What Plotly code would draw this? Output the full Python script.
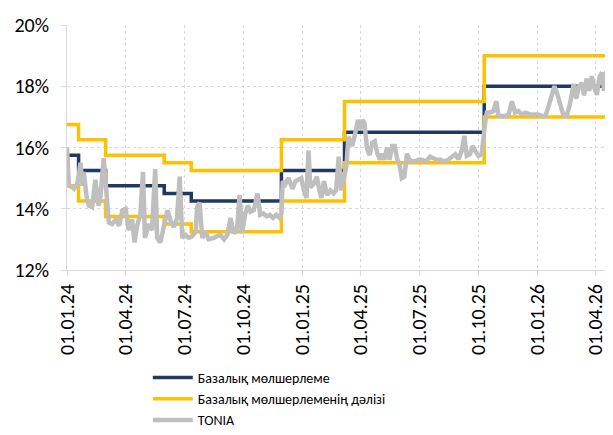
import pandas as pd
import plotly.graph_objects as go

# Policy (base) rate decisions
base_dates = ["2024-01-01", "2024-01-19", "2024-03-01", "2024-05-31", "2024-07-12",
              "2024-11-29", "2025-03-07", "2025-10-10", "2026-04-28"]
base_vals = [15.75, 15.25, 14.75, 14.5, 14.25, 15.25, 16.5, 18.0, 18.0]
corridor_upper = [16.75, 16.25, 15.75, 15.5, 15.25, 16.25, 17.5, 19.0, 19.0]
corridor_lower = [14.75, 14.25, 13.75, 13.5, 13.25, 14.25, 15.5, 17.0, 17.0]

# TONIA: days since 01.01.2024 and value (%)
tonia_day = [0, 3, 8, 11, 16, 21, 24, 26, 31, 34, 39, 44, 49, 52, 57, 62, 65, 70, 76, 81,
             86, 91, 96, 101, 105, 109, 114, 118, 121, 127, 132, 137, 140, 145, 150, 156, 161, 166, 171, 175,
             179, 184, 189, 194, 200, 202, 206, 210, 215, 220, 228, 233, 238, 244, 249, 254, 259, 264, 268, 272,
             277, 281, 285, 290, 296, 300, 305, 310, 315, 320, 325, 330, 333, 335, 339, 344, 350, 355, 360, 364,
             368, 372, 375, 378, 383, 388, 391, 395, 399, 404, 409, 414, 418, 422, 426, 430, 434, 437, 443, 448,
             452, 456, 459, 462, 466, 470, 474, 478, 482, 486, 489, 493, 497, 501, 505, 509, 513, 516, 520, 524,
             528, 532, 536, 541, 546, 551, 557, 562, 564, 569, 575, 580, 585, 590, 598, 603, 608, 613, 617, 621,
             626, 630, 634, 639, 644, 647, 650, 652, 657, 662, 667, 670, 675, 681, 686, 691, 696, 701, 706, 712,
             719, 727, 732, 737, 743, 748, 753, 757, 761, 766, 771, 776, 781, 787, 791, 795, 800, 803, 807, 811,
             815, 819, 823, 827, 831, 834, 838, 843, 848]
tonia_val = [16.0, 14.75, 14.7, 14.65, 14.8, 15.5, 14.75, 15.2, 14.3, 14.1, 14.05, 14.95, 14.1, 14.4, 15.65, 14.05, 13.55, 13.5, 13.65, 13.45,
             13.95, 14.0, 13.3, 13.65, 12.9, 13.45, 13.85, 15.2, 13.05, 13.5, 13.3, 15.3, 13.05, 12.9, 13.4, 13.95, 13.6, 13.4, 13.7, 15.05,
             13.05, 13.15, 13.05, 13.1, 13.25, 14.05, 14.2, 13.05, 13.25, 13.0, 13.05, 13.1, 13.15, 13.0, 13.15, 13.7, 13.2, 13.3, 14.45, 13.2,
             13.85, 14.1, 13.9, 13.95, 14.5, 13.8, 13.85, 13.75, 13.8, 13.7, 13.8, 13.7, 13.85, 14.9, 14.8, 15.0, 14.65, 14.9, 14.95, 15.0,
             14.6, 14.35, 15.9, 14.7, 14.8, 15.05, 14.7, 14.35, 14.9, 14.45, 14.6, 14.5, 14.6, 15.7, 14.6, 15.1, 15.4, 16.35, 16.05, 16.5,
             16.9, 16.6, 16.9, 16.8, 15.95, 15.75, 16.15, 16.2, 15.8, 15.6, 15.8, 15.6, 16.0, 15.6, 16.05, 16.05, 15.6, 15.5, 15.0, 15.05,
             15.8, 15.6, 15.55, 15.55, 15.6, 15.6, 15.55, 15.65, 15.7, 15.65, 15.6, 15.6, 15.55, 15.57, 15.73, 15.78, 15.62, 15.89, 16.38, 15.73,
             15.78, 16.05, 15.89, 15.73, 15.78, 16.45, 16.9, 17.14, 17.14, 17.19, 17.51, 17.03, 17.03, 17.03, 17.08, 17.51, 17.14, 17.19, 17.08, 17.14,
             17.08, 17.08, 17.08, 17.03, 17.03, 17.35, 17.7, 18.0, 17.78, 17.46, 17.05, 17.03, 17.41, 18.08, 17.6, 18.0, 18.1, 17.7, 18.25, 17.85,
             18.33, 17.95, 17.72, 18.3, 18.45, 17.85, 18.5, 17.85, 18.3]

tick_dates = ["2024-01-01", "2024-04-01", "2024-07-01", "2024-10-01", "2025-01-01",
              "2025-04-01", "2025-07-01", "2025-10-01", "2026-01-01", "2026-04-01"]
tick_labels = ["01.01.24", "01.04.24", "01.07.24", "01.10.24", "01.01.25",
               "01.04.25", "01.07.25", "01.10.25", "01.01.26", "01.04.26"]
y_ticks = [12, 14, 16, 18, 20]
y_labels = ["12%", "14%", "16%", "18%", "20%"]

names = ["Базалық мөлшерлеме", "Базалық мөлшерлеменің дәлізі", "TONIA"]

tonia_dates = pd.Timestamp("2024-01-01") + pd.to_timedelta(tonia_day, unit="D")

NAVY = "#1F3864"
YELLOW = "#FFC000"
GREY = "#BFBFBF"
FONT = "Carlito, Calibri, 'Liberation Sans Narrow', Roboto, sans-serif"

fig = go.Figure()
fig.add_trace(go.Scatter(x=base_dates, y=base_vals, mode="lines", line_shape="hv",
                         line=dict(color=NAVY, width=3.5), name=names[0]))
fig.add_trace(go.Scatter(x=base_dates, y=corridor_upper, mode="lines", line_shape="hv",
                         line=dict(color=YELLOW, width=3.5), name=names[1], legendgroup="c"))
fig.add_trace(go.Scatter(x=base_dates, y=corridor_lower, mode="lines", line_shape="hv",
                         line=dict(color=YELLOW, width=3.5), name=names[1], legendgroup="c",
                         showlegend=False))
fig.add_trace(go.Scatter(x=tonia_dates, y=tonia_val, mode="lines",
                         line=dict(color=GREY, width=4.5), name=names[2]))

# the page body adds an 8px offset; margins compensate so the plot sits where the reference has it
fig.update_layout(
    width=613, height=435,
    margin=dict(l=59, r=8, t=17, b=173, autoexpand=False),
    paper_bgcolor="white", plot_bgcolor="white",
    font=dict(family=FONT, size=18, color="#000000"),
    showlegend=True,
    legend=dict(orientation="v", x=0.148, xanchor="left", y=-0.375, yanchor="top",
                font=dict(family=FONT, size=14, color="#000000"),
                bgcolor="rgba(0,0,0,0)", tracegroupgap=0, itemwidth=40),
)
fig.update_xaxes(
    type="date", range=["2024-01-01", "2026-04-28"], automargin=False,
    tickmode="array", tickvals=tick_dates, ticktext=tick_labels, tickangle=-90,
    showgrid=True, gridcolor="#D9D9D9", griddash="dot", gridwidth=1,
    showline=True, linecolor="#D9D9D9", linewidth=1,
    ticks="outside", ticklen=5, tickcolor="#D9D9D9",
    tickfont=dict(family=FONT, size=20), zeroline=False,
)
fig.update_yaxes(
    range=[12, 20], automargin=False,
    tickmode="array", tickvals=y_ticks, ticktext=y_labels,
    showgrid=True, gridcolor="#D9D9D9", griddash="dot", gridwidth=1,
    showline=True, linecolor="#D9D9D9", linewidth=1,
    ticks="outside", ticklen=5, tickcolor="#D9D9D9", ticklabelstandoff=8,
    tickfont=dict(family=FONT, size=20), zeroline=False,
)

fig.write_html("out.html")
